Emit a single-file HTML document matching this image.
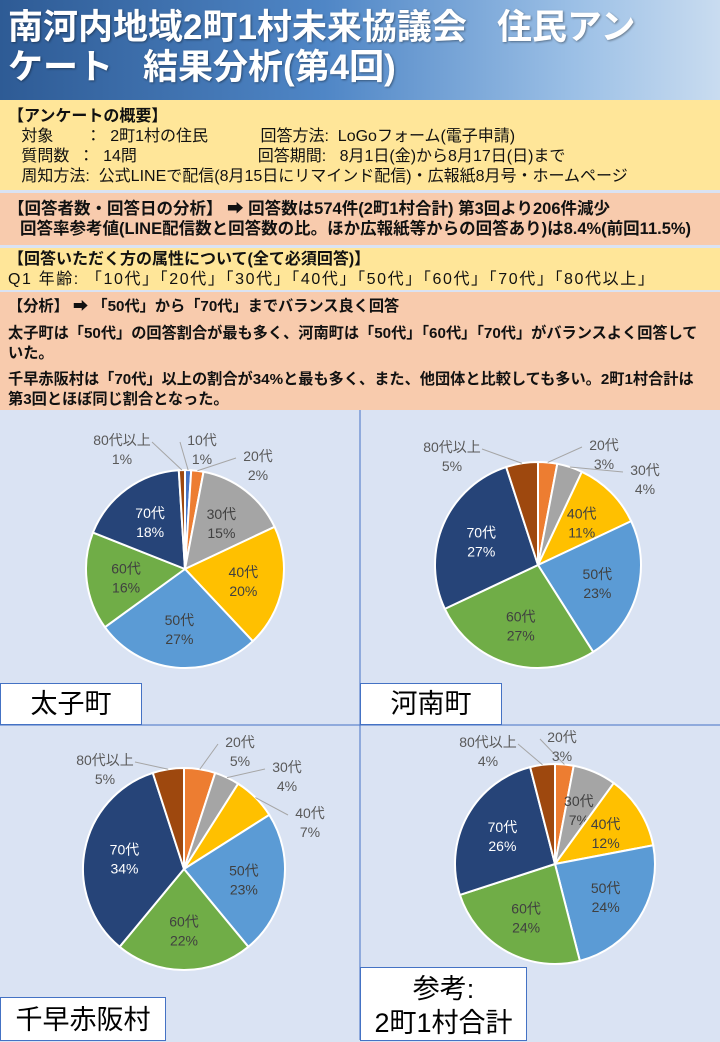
<!DOCTYPE html>
<html><head><meta charset="utf-8">
<style>
*{margin:0;padding:0;box-sizing:border-box}
body{width:720px;height:1040px;overflow:hidden;font-family:"Liberation Sans","Noto Sans CJK JP",sans-serif;position:relative;background:#dae3f3}
.title{position:absolute;left:0;top:0;width:720px;height:100px;background:linear-gradient(90deg,#2e5b95 0%,#4f86c6 45%,#9cc0e6 80%,#c9dcf0 100%);color:#fff;font-weight:bold;font-size:35px;line-height:40px;padding:8px 0 0 8px;text-shadow:1px 1px 2px rgba(0,0,0,.4);white-space:nowrap}
.gap{display:inline-block;width:30px}
.p{position:absolute;left:0;width:720px;font-size:16px;line-height:20px;color:#111;padding-left:8px;white-space:nowrap}
.y{background:#ffe699}.o{background:#f8cbad}
.b{font-weight:bold}
.lbl{position:absolute;background:#fff;border:1px solid #4472c4;font-size:27px;text-align:center;color:#000}
svg{position:absolute;left:0;top:0}
</style></head><body>
<div class="title">南河内地域2町1村未来協議会<span class="gap"></span>住民アン<br>ケート<span class="gap"></span>結果分析(第4回)</div>
<div class="p y" style="top:100px;height:90px;padding-top:7px">
<div class="b">【アンケートの概要】</div>
<div style="white-space:pre">   対象　　：  2町1村の住民　　　 回答方法:  LoGoフォーム(電子申請)</div>
<div style="white-space:pre">   質問数  ：  14問　　　　　　　  回答期間:   8月1日(金)から8月17日(日)まで</div>
<div style="white-space:pre">   周知方法:  公式LINEで配信(8月15日にリマインド配信)・広報紙8月号・ホームページ</div>
</div>
<div class="p o" style="top:193px;height:52px;padding-top:6px;font-size:16.5px">
<div class="b">【回答者数・回答日の分析】 ➡  回答数は574件(2町1村合計)  第3回より206件減少</div>
<div class="b" style="padding-left:12px">回答率参考値(LINE配信数と回答数の比。ほか広報紙等からの回答あり)は8.4%(前回11.5%)</div>
</div>
<div class="p y" style="top:248px;height:42px;padding-top:2px">
<div class="b">【回答いただく方の属性について(全て必須回答)】</div>
<div style="letter-spacing:1.6px">Q1  年齢:  「10代」「20代」「30代」「40代」「50代」「60代」「70代」「80代以上」</div>
</div>
<div class="p o" style="top:292px;height:118px;padding-top:5px;font-size:15.2px">
<div class="b" style="margin-bottom:7px">【分析】 ➡ 「50代」から「70代」までバランス良く回答</div>
<div class="b">太子町は「50代」の回答割合が最も多く、河南町は「50代」「60代」「70代」がバランスよく回答して</div>
<div class="b" style="margin-bottom:6px">いた。</div>
<div class="b">千早赤阪村は「70代」以上の割合が34%と最も多く、また、他団体と比較しても多い。2町1村合計は</div>
<div class="b">第3回とほぼ同じ割合となった。</div>
</div>
<svg id="ch" width="720" height="1040">
<line x1="360" y1="410" x2="360" y2="1040" stroke="#4472c4" stroke-width="1"/>
<line x1="0" y1="725" x2="720" y2="725" stroke="#4472c4" stroke-width="1"/>
</svg>
<div class="lbl" style="left:0;top:683px;width:142px;height:42px;line-height:40px">太子町</div>
<div class="lbl" style="left:360px;top:683px;width:142px;height:42px;line-height:40px">河南町</div>
<div class="lbl" style="left:0;top:997px;width:166px;height:44px;line-height:44px">千早赤阪村</div>
<div class="lbl" style="left:360px;top:967px;width:167px;height:74px;line-height:34px;padding-top:4px">参考:<br>2町1村合計</div>
<script>
const categories=["10代","20代","30代","40代","50代","60代","70代","80代以上"];
const taishiValues=[1,2,15,20,27,16,18,1];
const kananValues=[0,3,4,11,23,27,27,5];
const chihayaValues=[0,5,4,7,23,22,34,5];
const totalValues=[0,3,7,12,24,24,26,4];
const colors=["#4472c4","#ed7d31","#a5a5a5","#ffc000","#5b9bd5","#70ad47","#264478","#9e480e"];
// label placement overrides for small slices (layout only)
const taishiOut={7:[122,440],0:[202,440],1:[258,456]};
const kananOut={7:[452,447],1:[604,445],2:[645,470]};
const chihayaOut={7:[105,760],1:[240,742],2:[287,767],3:[310,813]};
const totalOut={7:[488,742],1:[562,737]};
const svg=document.getElementById('ch');
const NS='http://www.w3.org/2000/svg';
function mk(t,a){const e=document.createElementNS(NS,t);for(const k in a)e.setAttribute(k,a[k]);svg.appendChild(e);return e;}
function pie(name,vals,cx,cy,r,out){
  const sum=vals.reduce((a,b)=>a+b,0);
  let a0=0;
  vals.forEach((v,i)=>{
    if(v<=0)return;
    const a1=a0+v/sum*2*Math.PI;
    const p=(a)=>[cx+r*Math.sin(a),cy-r*Math.cos(a)];
    const [x0,y0]=p(a0),[x1,y1]=p(a1);
    const large=(a1-a0)>Math.PI?1:0;
    const s=mk('path',{d:`M${cx},${cy}L${x0},${y0}A${r},${r} 0 ${large} 1 ${x1},${y1}Z`,fill:colors[i],stroke:'#fff','stroke-width':2});
    
    
    const m=(a0+a1)/2;
    let lx,ly,fill;
    if(out[i]){
      lx=out[i][0];ly=out[i][1]+8;fill='#595959';
      const ex=cx+r*Math.sin(m),ey=cy-r*Math.cos(m);
      const tx=lx+(lx<cx?30:-22),ty=ly-6;
      mk('polyline',{points:`${ex},${ey} ${tx},${ty}`,fill:'none',stroke:'#a6a6a6','stroke-width':1});
    }else{
      const lr=r*0.6;
      lx=cx+lr*Math.sin(m);ly=cy-lr*Math.cos(m);
      fill=i==6?'#fff':'#404040';
    }
    const t=mk('text',{x:lx,y:ly-3,'text-anchor':'middle','font-size':14,fill:fill,'font-family':'"Liberation Sans","Noto Sans CJK JP",sans-serif'});
    
    
    t.textContent=categories[i];
    const t2=mk('text',{x:lx,y:ly+16,'text-anchor':'middle','font-size':14,fill:fill,'font-family':'"Liberation Sans",sans-serif'});
    
    
    t2.textContent=Math.round(v)+'%';
    a0=a1;
  });
}
pie('taishi',taishiValues,185,569,99,taishiOut);
pie('kanan',kananValues,538,565,103,kananOut);
pie('chihaya',chihayaValues,184,869,101,chihayaOut);
pie('total',totalValues,555,864,100,totalOut);
</script>
</body></html>
